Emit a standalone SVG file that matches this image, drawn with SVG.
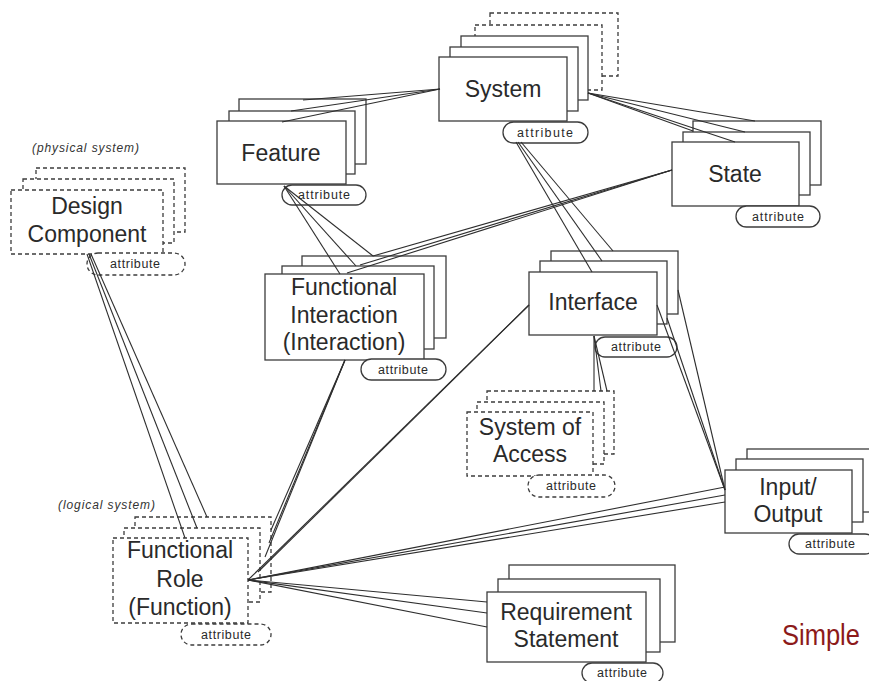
<svg xmlns="http://www.w3.org/2000/svg" width="869" height="681" viewBox="0 0 869 681">
  <style>
    .box { fill: #ffffff; stroke: #3c3c3c; stroke-width: 1.3; }
    .dash { fill: #ffffff; stroke: #3c3c3c; stroke-width: 1.3; stroke-dasharray: 4 3; }
    .lbl { font-family: "Liberation Sans", Arial, sans-serif; font-size: 23px; fill: #2a2a2a; text-anchor: middle; }
    .attr { font-family: "Liberation Sans", Arial, sans-serif; font-size: 12.5px; fill: #2a2a2a; text-anchor: middle; }
    .note { font-family: "Liberation Sans", Arial, sans-serif; font-size: 12px; font-style: italic; fill: #333333; }
    .conn line { stroke: #2e2e2e; stroke-width: 1.1; }
  </style>

  <rect x="0" y="0" width="869" height="681" fill="#ffffff"/>

  <!-- System -->
  <g id="system">
    <rect class="dash" x="490" y="13" width="128" height="63"/>
    <rect class="dash" x="475" y="25" width="127" height="65"/>
    <rect class="box" x="461" y="36" width="127" height="64"/>
    <rect class="box" x="450" y="47" width="128" height="64"/>
    <rect class="box" x="439" y="57" width="128" height="64"/>
    <text class="lbl" x="503" y="97">System</text>
    <rect class="box" x="503" y="122" width="85" height="21" rx="10.5"/>
    <text class="attr" x="545" y="137" textLength="56" lengthAdjust="spacing">attribute</text>
  </g>

  <!-- Feature -->
  <g id="feature">
    <rect class="box" x="239" y="99" width="127" height="65"/>
    <rect class="box" x="229" y="111" width="126" height="63"/>
    <rect class="box" x="217" y="121" width="129" height="63"/>
    <text class="lbl" x="281" y="161">Feature</text>
    <rect class="box" x="282" y="185" width="84" height="20" rx="10"/>
    <text class="attr" x="324" y="199" textLength="52" lengthAdjust="spacing">attribute</text>
  </g>

  <!-- State -->
  <g id="state">
    <rect class="box" x="693" y="121" width="128" height="64"/>
    <rect class="box" x="683" y="132" width="127" height="63"/>
    <rect class="box" x="672" y="142" width="127" height="64"/>
    <text class="lbl" x="735" y="182">State</text>
    <rect class="box" x="736" y="206" width="84" height="21" rx="10.5"/>
    <text class="attr" x="778" y="221" textLength="52" lengthAdjust="spacing">attribute</text>
  </g>

  <!-- Design Component (physical system) -->
  <g id="design-component">
    <text class="note" x="32" y="152" textLength="107" lengthAdjust="spacing">(physical system)</text>
    <rect class="dash" x="36" y="168" width="149" height="64"/>
    <rect class="dash" x="23" y="179" width="151" height="64"/>
    <rect class="dash" x="11" y="190" width="152" height="64"/>
    <text class="lbl" x="87" y="214">Design</text>
    <text class="lbl" x="87" y="242">Component</text>
    <rect class="dash" x="87" y="253" width="98" height="22" rx="11"/>
    <text class="attr" x="135" y="268" textLength="50" lengthAdjust="spacing">attribute</text>
  </g>

  <!-- Functional Interaction -->
  <g id="functional-interaction">
    <rect class="box" x="302" y="256" width="144" height="82"/>
    <rect class="box" x="282" y="266" width="152" height="83"/>
    <rect class="box" x="265" y="274" width="159" height="86"/>
    <text class="lbl" x="344" y="295">Functional</text>
    <text class="lbl" x="344" y="323">Interaction</text>
    <text class="lbl" x="344" y="350">(Interaction)</text>
    <rect class="box" x="361" y="359" width="85" height="21" rx="10.5"/>
    <text class="attr" x="403" y="374" textLength="50" lengthAdjust="spacing">attribute</text>
  </g>

  <!-- Interface -->
  <g id="interface">
    <rect class="box" x="551" y="251" width="127" height="63"/>
    <rect class="box" x="540" y="261" width="127" height="63"/>
    <rect class="box" x="529" y="272" width="128" height="63"/>
    <text class="lbl" x="593" y="310">Interface</text>
    <rect class="box" x="595" y="337" width="82" height="20" rx="10"/>
    <text class="attr" x="636" y="351" textLength="50" lengthAdjust="spacing">attribute</text>
  </g>

  <!-- System of Access -->
  <g id="system-of-access">
    <rect class="dash" x="487" y="391" width="127" height="63"/>
    <rect class="dash" x="477" y="402" width="127" height="62"/>
    <rect class="dash" x="467" y="412" width="126" height="64"/>
    <text class="lbl" x="530" y="435">System of</text>
    <text class="lbl" x="530" y="462">Access</text>
    <rect class="dash" x="528" y="475" width="87" height="22" rx="11"/>
    <text class="attr" x="571" y="490" textLength="50" lengthAdjust="spacing">attribute</text>
  </g>

  <!-- Functional Role (logical system) -->
  <g id="functional-role">
    <text class="note" x="58" y="509" textLength="97" lengthAdjust="spacing">(logical system)</text>
    <rect class="dash" x="135" y="517" width="136" height="75"/>
    <rect class="dash" x="124" y="528" width="136" height="74"/>
    <rect class="dash" x="113" y="538" width="135" height="85"/>
    <text class="lbl" x="180" y="558">Functional</text>
    <text class="lbl" x="180" y="587">Role</text>
    <text class="lbl" x="180" y="615">(Function)</text>
    <rect class="dash" x="181" y="624" width="90" height="21" rx="10.5"/>
    <text class="attr" x="226" y="639" textLength="50" lengthAdjust="spacing">attribute</text>
  </g>

  <!-- Input/Output -->
  <g id="input-output">
    <rect class="box" x="747" y="449" width="127" height="63"/>
    <rect class="box" x="736" y="459" width="127" height="63"/>
    <rect class="box" x="725" y="470" width="127" height="63"/>
    <text class="lbl" x="788" y="495">Input/</text>
    <text class="lbl" x="788" y="522">Output</text>
    <rect class="box" x="789" y="534" width="86" height="20" rx="10"/>
    <text class="attr" x="830" y="548" textLength="50" lengthAdjust="spacing">attribute</text>
  </g>

  <!-- Requirement Statement -->
  <g id="requirement-statement">
    <rect class="box" x="509" y="565" width="166" height="77"/>
    <rect class="box" x="498" y="579" width="162" height="73"/>
    <rect class="box" x="487" y="592" width="159" height="70"/>
    <text class="lbl" x="566" y="620">Requirement</text>
    <text class="lbl" x="566" y="647">Statement</text>
    <rect class="box" x="582" y="663" width="81" height="20" rx="10"/>
    <text class="attr" x="622" y="677" textLength="50" lengthAdjust="spacing">attribute</text>
  </g>

  <!-- Connectors -->
  <g id="connectors" class="conn">
    <!-- System to Feature -->
    <line x1="440" y1="89" x2="282" y2="122"/>
    <line x1="440" y1="89" x2="291" y2="111"/>
    <line x1="440" y1="89" x2="303" y2="100"/>
    <!-- System to State -->
    <line x1="588" y1="93" x2="735" y2="142"/>
    <line x1="588" y1="93" x2="745" y2="132"/>
    <line x1="588" y1="93" x2="755" y2="121"/>
    <line x1="588" y1="93" x2="693" y2="131"/>
    <!-- System to Interface -->
    <line x1="516" y1="142" x2="592" y2="272"/>
    <line x1="518" y1="142" x2="602" y2="261"/>
    <line x1="521" y1="142" x2="613" y2="251"/>
    <!-- Feature to Functional Interaction -->
    <line x1="284" y1="186" x2="340" y2="274"/>
    <line x1="284" y1="186" x2="356" y2="266"/>
    <line x1="284" y1="186" x2="373" y2="256"/>
    <!-- State to Functional Interaction -->
    <line x1="672" y1="170" x2="347" y2="273"/>
    <line x1="672" y1="170" x2="360" y2="265"/>
    <line x1="672" y1="170" x2="373" y2="256"/>
    <!-- Design Component to Functional Role -->
    <line x1="87" y1="254" x2="185" y2="538"/>
    <line x1="89" y1="254" x2="197" y2="528"/>
    <line x1="91" y1="254" x2="207" y2="517"/>
    <!-- Functional Interaction to Functional Role -->
    <line x1="345" y1="360" x2="271" y2="530"/>
    <line x1="345" y1="360" x2="269" y2="543"/>
    <line x1="345" y1="360" x2="265" y2="557"/>
    <!-- Interface to Functional Role -->
    <line x1="529" y1="305" x2="248" y2="580"/>
    <line x1="529" y1="305" x2="258" y2="572"/>
    <!-- Functional Role to Input/Output -->
    <line x1="248" y1="580" x2="725" y2="487"/>
    <line x1="248" y1="580" x2="725" y2="495"/>
    <line x1="248" y1="580" x2="725" y2="502"/>
    <!-- Functional Role to Requirement Statement -->
    <line x1="248" y1="580" x2="487" y2="602"/>
    <line x1="248" y1="580" x2="487" y2="613"/>
    <line x1="248" y1="580" x2="487" y2="627"/>
    <!-- Interface to Input/Output -->
    <line x1="657" y1="305" x2="725" y2="490"/>
    <line x1="667" y1="318" x2="725" y2="490"/>
    <line x1="678" y1="290" x2="725" y2="490"/>
    <!-- Interface to System of Access -->
    <line x1="594" y1="336" x2="594" y2="391"/>
    <line x1="594" y1="336" x2="601" y2="391"/>
    <line x1="594" y1="336" x2="607" y2="391"/>
  </g>

  <!-- slide caption, horizontally condensed -->
  <text transform="scale(0.85,1)" x="920" y="645" font-family="'Liberation Sans', Arial, sans-serif" font-size="30" fill="#8c1a1a">Simple</text>
</svg>
